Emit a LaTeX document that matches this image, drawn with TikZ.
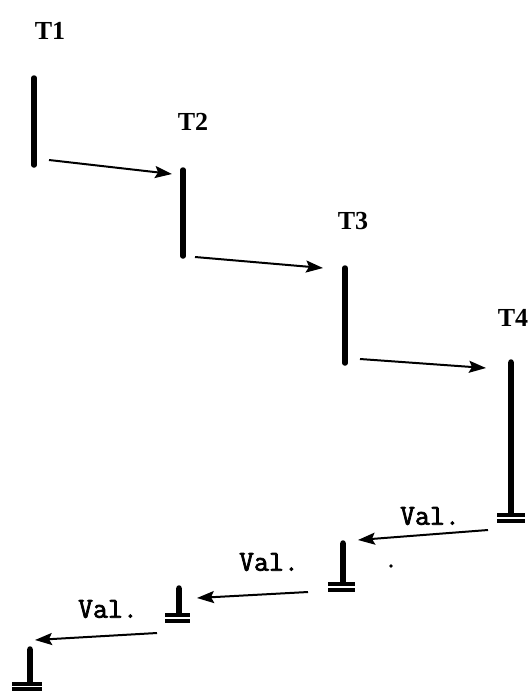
\documentclass[tikz,border=0pt]{standalone}
\usepackage{fontspec}
\setmainfont{Liberation Serif}
\newfontfamily\valfont[FakeBold=2.5]{Latin Modern Mono}
\usetikzlibrary{arrows.meta}
\begin{document}
\begin{tikzpicture}[x=1pt,y=-1pt,
  bar/.style={line width=5.5pt, line cap=round},
  gline/.style={line width=3.8pt},
  conn/.style={line width=2pt, -{Stealth[length=17pt,width=12pt,inset=3pt]}},
  tlab/.style={font=\fontsize{26}{26}\selectfont\bfseries, inner sep=0pt},
  vlab/.style={font=\valfont\fontsize{29}{29}\selectfont, inner sep=0pt}]
\useasboundingbox (0,0) rectangle (531,691);
% labels
\node[tlab] (t1) at (50,31) {T1};
\node[tlab] (t2) at (193,122) {T2};
\node[tlab] (t3) at (353,221) {T3};
\node[tlab] (t4) at (513,318) {T4};
\node[vlab] (v1) at (430,516) {Val.};
\node[vlab] (v2) at (269,562) {Val.};
\node[vlab] (v3) at (108,609) {Val.};
% bars
\coordinate (b1t) at (34,78);   \coordinate (b1b) at (34,165);
\coordinate (b2t) at (183,170); \coordinate (b2b) at (183,256);
\coordinate (b3t) at (345,268); \coordinate (b3b) at (345,363);
\coordinate (b4t) at (511,362); \coordinate (b4b) at (511,513);
\coordinate (g2t) at (343,543); \coordinate (g2b) at (343,582);
\coordinate (g3t) at (179,588); \coordinate (g3b) at (179,613);
\coordinate (g4t) at (30,649);  \coordinate (g4b) at (30,682);
\draw[bar] (b1t) -- (b1b);
\draw[bar] (b2t) -- (b2b);
\draw[bar] (b3t) -- (b3b);
\draw[bar, line cap=butt] (b4t) -- (b4b);
\draw[bar, line cap=butt] (g2t) -- (g2b);
\draw[bar, line cap=butt] (g3t) -- (g3b);
\draw[bar, line cap=butt] (g4t) -- (g4b);
\fill (b4t) circle (2.75pt);
\fill (g2t) circle (2.75pt);
\fill (g3t) circle (2.75pt);
\fill (g4t) circle (2.75pt);
% ground double lines
\draw[gline] (497,515) -- (525,515) (497,521) -- (525,521);
\draw[gline] (328,584) -- (355,584) (328,590) -- (355,590);
\draw[gline] (165,615) -- (190,615) (165,621) -- (190,621);
\draw[gline] (12,684) -- (42,684) (12,689) -- (42,689);
% connector ends
\coordinate (a1s) at (49,160);  \coordinate (a1e) at (172,174);
\coordinate (a2s) at (195,257); \coordinate (a2e) at (323,268);
\coordinate (a3s) at (360,359); \coordinate (a3e) at (486,368);
\coordinate (v1s) at (488,530); \coordinate (v1e) at (358,540);
\coordinate (v2s) at (308,592); \coordinate (v2e) at (197,598);
\coordinate (v3s) at (157,633); \coordinate (v3e) at (35,640);
\draw[conn] (a1s) -- (a1e);
\draw[conn] (a2s) -- (a2e);
\draw[conn] (a3s) -- (a3e);
\draw[conn] (v1s) -- (v1e);
\draw[conn] (v2s) -- (v2e);
\draw[conn] (v3s) -- (v3e);
% stray dot
\coordinate (dot) at (391,566);
\fill (dot) circle (1.8pt);
\end{tikzpicture}
\end{document}
